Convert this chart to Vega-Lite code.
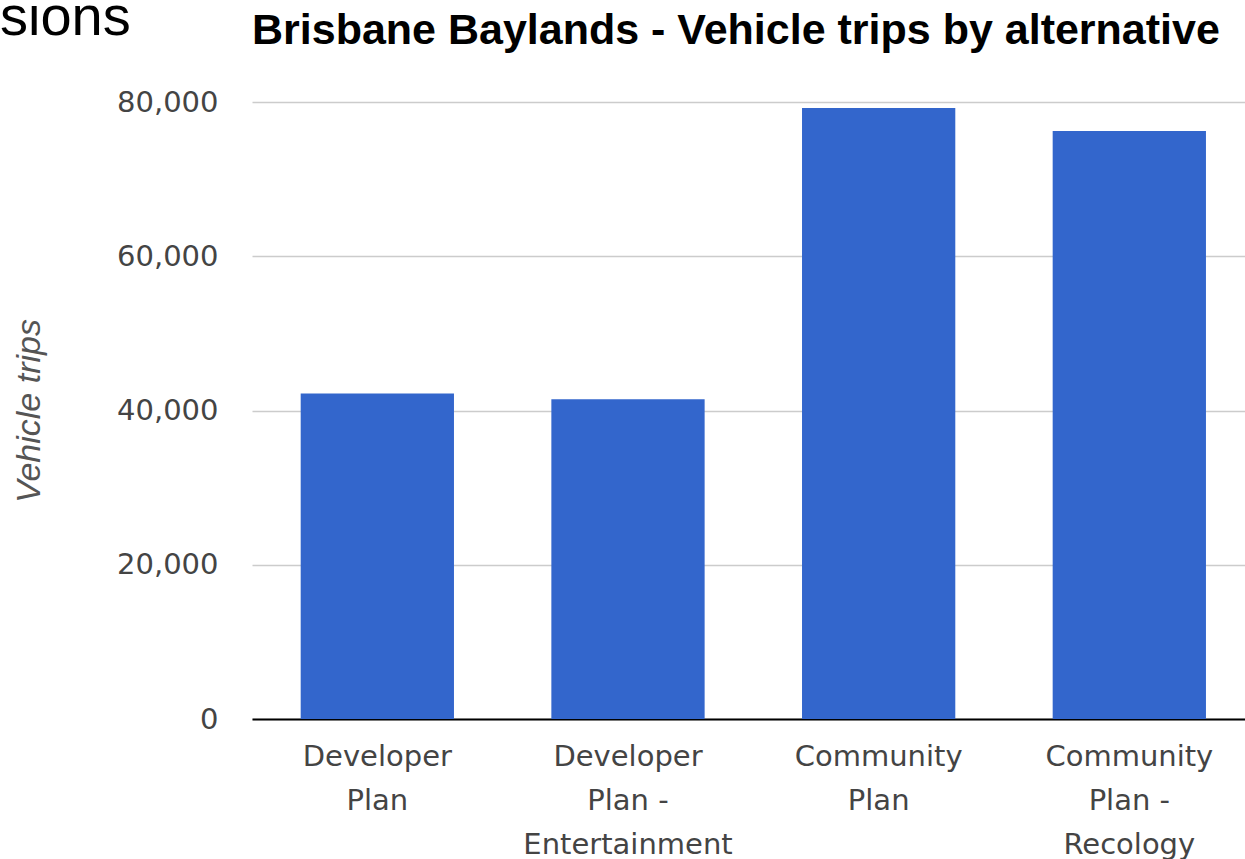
{
  "$schema": "https://vega.github.io/schema/vega-lite/v6.json",
  "autosize": {"type": "pad"},
  "padding": {"left": 0, "top": -10, "right": 0, "bottom": 0},
  "background": "white",
  "title": {
    "text": "sions",
    "anchor": "start",
    "frame": "group",
    "font": "Liberation Sans",
    "fontSize": 56,
    "fontWeight": "normal",
    "color": "#000000",
    "dx": -252,
    "dy": 41
  },
  "config": {
    "view": {"stroke": null},
    "concat": {"spacing": 0}
  },
  "vconcat": [
    {
      "width": 993,
      "height": 617,
      "title": {
        "text": "Brisbane Baylands - Vehicle trips by alternative",
        "anchor": "start",
        "frame": "group",
        "font": "Liberation Sans",
        "fontSize": 43,
        "fontWeight": "bold",
        "color": "#000000",
        "offset": 35
      },
      "data": {
        "values": [
          {"alternative": "Developer Plan", "trips": 42200},
          {"alternative": "Developer Plan - Entertainment", "trips": 41470},
          {"alternative": "Community Plan", "trips": 79220},
          {"alternative": "Community Plan - Recology", "trips": 76240}
        ]
      },
      "mark": {"type": "bar", "color": "#3366cc"},
      "encoding": {
        "x": {
          "field": "alternative",
          "type": "nominal",
          "sort": null,
          "scale": {"type": "band", "paddingInner": 0.3885, "paddingOuter": 0.175, "align": 0.555},
          "axis": {
            "title": null,
            "labelAngle": 0,
            "labelExpr": "split(replace(datum.value, ' -', '\u00a0-'), ' ')",
            "labelFont": "DejaVu Sans",
            "labelFontSize": 29,
            "labelColor": "#444444",
            "labelLineHeight": 44,
            "labelPadding": 23,
            "labelLimit": 0,
            "ticks": false,
            "tickSize": 0,
            "domainColor": "#000000",
            "domainWidth": 2,
            "grid": false
          }
        },
        "y": {
          "field": "trips",
          "type": "quantitative",
          "scale": {"domain": [0, 80000], "nice": false},
          "axis": {
            "values": [0, 20000, 40000, 60000, 80000],
            "format": ",.0f",
            "title": "Vehicle trips",
            "titleFont": "Liberation Sans",
            "titleFontSize": 34,
            "titleFontStyle": "italic",
            "titleFontWeight": "normal",
            "titleColor": "#555555",
            "titlePadding": 70,
            "labelFont": "DejaVu Sans",
            "labelFontSize": 29,
            "labelColor": "#444444",
            "labelPadding": 34,
            "ticks": false,
            "tickSize": 0,
            "domain": false,
            "grid": true,
            "gridColor": "#cccccc",
            "gridWidth": 1.5
          }
        }
      }
    }
  ]
}
